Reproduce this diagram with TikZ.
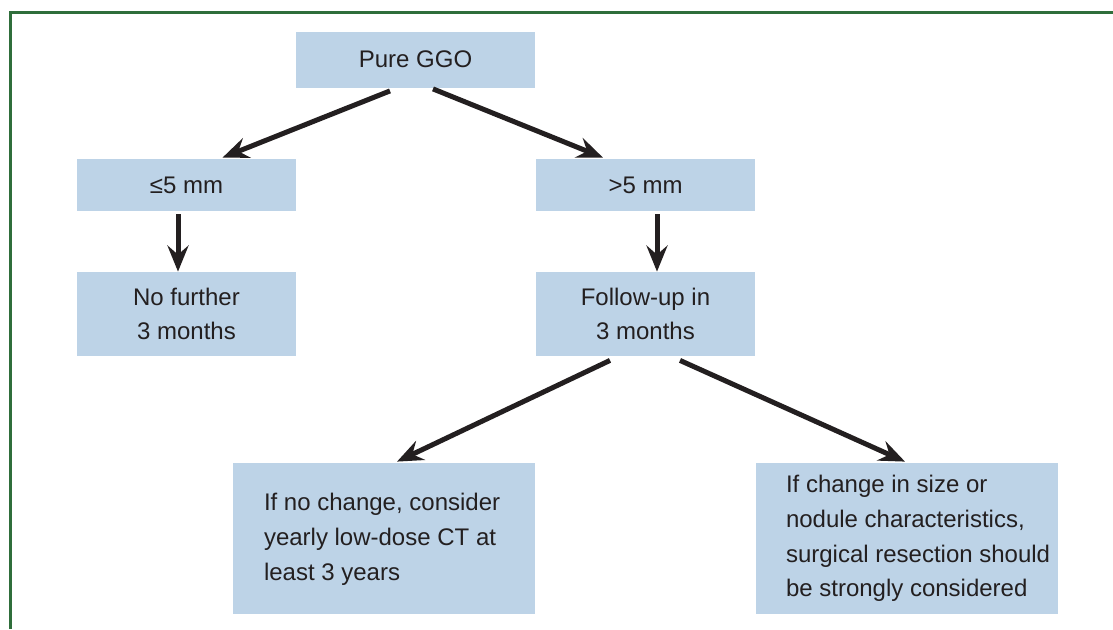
\documentclass[tikz,border=0pt]{standalone}
\usepackage{fontspec}
\setmainfont{Liberation Sans}
\usetikzlibrary{arrows.meta}
\definecolor{boxblue}{HTML}{BDD3E7}
\definecolor{framegreen}{HTML}{2F6E3B}
\definecolor{ink}{HTML}{231F20}
\begin{document}
\begin{tikzpicture}[x=0.5pt, y=-0.5pt,
		box/.style = {fill=boxblue, inner sep=0pt, align=center, text=ink,
			font=\fontsize{12}{17.4}\selectfont},
		txt/.style = {anchor=west, inner sep=0pt, align=left, text=ink,
			font=\fontsize{12}{17.4}\selectfont},
		arr/.style = {draw=ink, line width=2.5pt, -{Stealth[length=13pt, width=10.5pt, inset=4.5pt]}}]
				\useasboundingbox (0,0) rectangle (1113,629);
				\draw[framegreen, line width=1.6pt] (10.5,629) -- (10.5,12.7) -- (1113,12.7);
				
				\node[box, minimum width=119.5pt, minimum height=28pt] (ggo) at (415.5,59.5) {Pure GGO};
				\node[box, minimum width=109.5pt, minimum height=26pt] (le) at (186.5,185) {≤5 mm};
				\node[box, minimum width=109.5pt, minimum height=26pt] (gt) at (645.5,185) {>5 mm};
				\node[box, minimum width=109.5pt, minimum height=42pt] (nf) at (186.5,314) {No further\\3 months};
				\node[box, minimum width=109.5pt, minimum height=42pt] (fu) at (645.5,314) {Follow-up in\\3 months};
				\node[box, minimum width=151pt, minimum height=75.5pt] (bl) at (384,538.5) {};
				\node[box, minimum width=151pt, minimum height=75.5pt] (br) at (907,538.5) {};
				\node[txt] (blt) at ([xshift=15.5pt, yshift=-0.5pt]bl.west) {If no change, consider\\yearly low-dose CT at\\least 3 years};
				\node[txt] (brt) at ([xshift=15pt]br.west) {If change in size or\\nodule characteristics,\\surgical resection should\\be strongly considered};
				
				\draw[arr] ([xshift=-12.75pt, yshift=-1.5pt]ggo.south) -- ([xshift=18pt, yshift=0.5pt]le.north);
				\draw[arr] ([xshift=8.75pt, yshift=-0.5pt]ggo.south) -- ([xshift=-21.25pt, yshift=0.5pt]gt.north);
				\draw[arr] ([xshift=-4.25pt, yshift=-1.5pt]le.south) -- ([xshift=-4.25pt]nf.north);
				\draw[arr] ([xshift=5.75pt, yshift=-1.5pt]gt.south) -- ([xshift=5.75pt]fu.north);
				\draw[arr] ([xshift=-17.75pt, yshift=-2pt]fu.south) -- ([xshift=6.5pt, yshift=0.5pt]bl.north);
				\draw[arr] ([xshift=17.25pt, yshift=-2pt]fu.south) -- ([xshift=-1pt, yshift=0.5pt]br.north);
\end{tikzpicture}
\end{document}
